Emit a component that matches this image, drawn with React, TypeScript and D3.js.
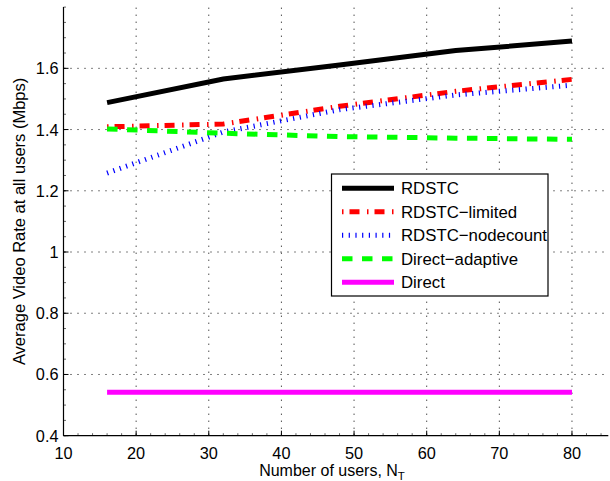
import React from "react";
import * as d3 from "d3";

const users = [16, 32, 48, 64, 80];
const rdstc = [1.488, 1.565, 1.611, 1.658, 1.689];
const rdstcLimited = [1.409, 1.418, 1.476, 1.525, 1.564];
const rdstcNodecount = [1.258, 1.392, 1.465, 1.513, 1.545];
const directAdaptive = [1.402, 1.388, 1.377, 1.372, 1.368];
const direct = [0.542, 0.542, 0.542, 0.542, 0.542];

const seriesNames = ["RDSTC", "RDSTC\u2212limited", "RDSTC\u2212nodecount", "Direct\u2212adaptive", "Direct"];
const xTicks = [10, 20, 30, 40, 50, 60, 70, 80];
const yTicks = [0.4, 0.6, 0.8, 1, 1.2, 1.4, 1.6];
const yLabels = ["0.4", "0.6", "0.8", "1", "1.2", "1.4", "1.6"];

const FONT = "'Liberation Sans', Arial, Helvetica, sans-serif";

const styles = [
  { color: "#000000", width: 5, dash: undefined as string | undefined },
  { color: "#ff0000", width: 5, dash: "1.5,6,10,7.5" },
  { color: "#0000ff", width: 5, dash: "1.2,5.5" },
  { color: "#00ff00", width: 5, dash: "10.5,9.5" },
  { color: "#ff00ff", width: 5, dash: undefined as string | undefined },
];

export default function App() {
  const W = 610, H = 481;
  const x = d3.scaleLinear().domain([10, 85]).range([63.5, 608.3]);
  const y = d3.scaleLinear().domain([0.4, 1.8]).range([435.7, 7.1]);
  const series = [rdstc, rdstcLimited, rdstcNodecount, directAdaptive, direct];
  const line = d3.line<number>().x((_, i) => x(users[i])).y((v) => y(v));

  const xMinor = d3.range(10, 85.001, 2);
  const yMinor = d3.range(0.4, 1.8001, 0.05);

  const legX = 331.5, legY = 174, legW = 216.5, legH = 122;
  const rowY = [188.3, 211.7, 235.2, 258.8, 282.3];

  return (
    <svg width={W} height={H} style={{ position: "absolute", left: 0, top: 0, background: "#fff" }} fontFamily={FONT}>
      <rect x={0} y={0} width={W} height={H} fill="#fff" />
      {/* grid */}
      {xTicks.slice(1).map((t) => (
        <line key={"gx" + t} x1={x(t)} x2={x(t)} y1={y(0.4)} y2={y(1.8)} stroke="#000" strokeWidth={1} strokeDasharray="1,6" />
      ))}
      {yTicks.slice(1).map((t) => (
        <line key={"gy" + t} x1={x(10)} x2={x(85)} y1={y(t)} y2={y(t)} stroke="#000" strokeWidth={1} strokeDasharray="1,6" />
      ))}
      {/* minor ticks */}
      {xMinor.map((t) => (
        <line key={"mx" + t} x1={x(t)} x2={x(t)} y1={y(0.4)} y2={y(0.4) - 2.5} stroke="#000" strokeWidth={0.6} />
      ))}
      {yMinor.map((t) => (
        <line key={"my" + t} x1={x(10)} x2={x(10) + 2.5} y1={y(t)} y2={y(t)} stroke="#000" strokeWidth={0.6} />
      ))}
      {/* major ticks */}
      {xTicks.map((t) => (
        <line key={"tx" + t} x1={x(t)} x2={x(t)} y1={y(0.4)} y2={y(0.4) - 5} stroke="#000" strokeWidth={1} />
      ))}
      {yTicks.map((t) => (
        <line key={"ty" + t} x1={x(10)} x2={x(10) + 5} y1={y(t)} y2={y(t)} stroke="#000" strokeWidth={1} />
      ))}
      {/* axes */}
      <line x1={x(10)} x2={x(10)} y1={y(0.4)} y2={y(1.8)} stroke="#000" strokeWidth={1.2} />
      <line x1={x(10)} x2={x(85)} y1={y(0.4)} y2={y(0.4)} stroke="#000" strokeWidth={1.2} />
      {/* tick labels */}
      {xTicks.map((t) => (
        <text key={"lx" + t} x={x(t)} y={458.5} fontSize={16.3} textAnchor="middle" fill="#000">{t}</text>
      ))}
      {yTicks.map((t, i) => (
        <text key={"ly" + t} x={x(10) - 5} y={y(t) + 6} fontSize={16.3} textAnchor="end" fill="#000">{yLabels[i]}</text>
      ))}
      {/* axis labels */}
      <text x={332} y={476} fontSize={16} textAnchor="middle" fill="#000">
        Number of users, N<tspan fontSize={11.5} dy={4}>T</tspan>
      </text>
      <text transform={`translate(25, ${(y(0.4) + y(1.8)) / 2}) rotate(-90)`} fontSize={16.5} textAnchor="middle" fill="#000">
        Average Video Rate at all users (Mbps)
      </text>
      {/* series */}
      {series.map((s, i) => (
        <path key={"s" + i} d={line(s) || ""} fill="none" stroke={styles[i].color} strokeWidth={styles[i].width} strokeDasharray={styles[i].dash} />
      ))}
      {/* legend */}
      <rect x={legX} y={legY} width={legW} height={legH} fill="#fff" stroke="#000" strokeWidth={1.2} />
      {seriesNames.map((n, i) => (
        <g key={"lg" + i}>
          <line x1={342} x2={394} y1={rowY[i]} y2={rowY[i]} stroke={styles[i].color} strokeWidth={styles[i].width} strokeDasharray={styles[i].dash} />
          <text x={401} y={rowY[i] + 6} fontSize={16.8} fill="#000">{n}</text>
        </g>
      ))}
    </svg>
  );
}
